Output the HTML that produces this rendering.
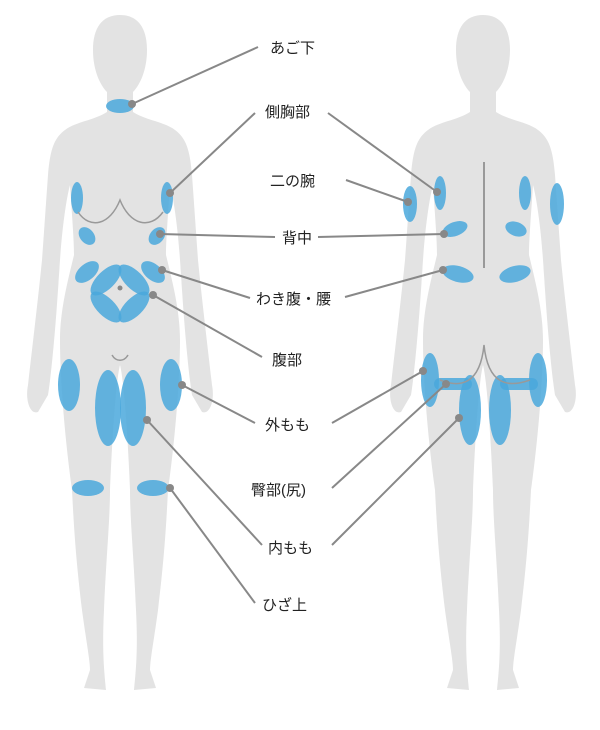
<!DOCTYPE html>
<html><head><meta charset="utf-8"><style>
html,body{margin:0;padding:0;background:#fff;}
svg{display:block;}
text{font-family:"Liberation Sans","Noto Sans CJK JP",sans-serif;font-size:15px;fill:#222;}
</style></head><body>
<svg width="600" height="730" viewBox="0 0 600 730" xmlns="http://www.w3.org/2000/svg">
<defs>
<path id="half" d="M0,15 C-18,15 -27,28 -27,50 C-27,70 -20,85 -13,92 L-13,112 C-25,120 -45,122 -55,130 C-66,138 -70,150 -72,175 L-78,260 C-82,300 -88,350 -92,385 C-95,400 -90,415 -82,412 L-72,395 C-68,370 -64,320 -62,290 L-60,260 C-58,230 -54,200 -50,185 C-48,215 -46,240 -46,255 C-52,280 -60,310 -60,340 C-60,380 -55,440 -48,490 C-46,530 -44,560 -38,610 C-34,640 -30,660 -30,670 L-36,688 L-14,690 C-16,670 -18,650 -16,610 C-14,560 -10,520 -10,490 C-8,440 -4,380 0,365 Z" fill="#e3e3e3"/>
</defs>
<g transform="translate(120,0)"><use href="#half"/><use href="#half" transform="scale(-1,1)"/></g>
<g transform="translate(483,0)"><use href="#half"/><use href="#half" transform="scale(-1,1)"/></g>

<g fill="#4aa8dc" fill-opacity="0.85">
<!-- front -->
<ellipse cx="120" cy="106" rx="14" ry="7"/>
<ellipse cx="77" cy="198" rx="6" ry="16"/>
<ellipse cx="167" cy="198" rx="6" ry="16"/>
<ellipse cx="87" cy="236" rx="7" ry="10" transform="rotate(-40 87 236)"/>
<ellipse cx="157" cy="236" rx="7" ry="10" transform="rotate(40 157 236)"/>
<ellipse cx="87" cy="272" rx="8" ry="14" transform="rotate(50 87 272)"/>
<ellipse cx="153" cy="272" rx="8" ry="14" transform="rotate(-50 153 272)"/>
<ellipse cx="106" cy="280" rx="9" ry="20" transform="rotate(45 106 280)"/>
<ellipse cx="134" cy="280" rx="9" ry="20" transform="rotate(-45 134 280)"/>
<ellipse cx="106" cy="307" rx="9" ry="20" transform="rotate(-45 106 307)"/>
<ellipse cx="134" cy="307" rx="9" ry="20" transform="rotate(45 134 307)"/>
<ellipse cx="69" cy="385" rx="11" ry="26"/>
<ellipse cx="171" cy="385" rx="11" ry="26"/>
<ellipse cx="108" cy="408" rx="13" ry="38"/>
<ellipse cx="133" cy="408" rx="13" ry="38"/>
<ellipse cx="88" cy="488" rx="16" ry="8"/>
<ellipse cx="153" cy="488" rx="16" ry="8"/>
<!-- back -->
<ellipse cx="410" cy="204" rx="7" ry="18"/>
<ellipse cx="440" cy="193" rx="6" ry="17"/>
<ellipse cx="525" cy="193" rx="6" ry="17"/>
<ellipse cx="557" cy="204" rx="7" ry="21"/>
<ellipse cx="455" cy="229" rx="13" ry="7" transform="rotate(-20 455 229)"/>
<ellipse cx="516" cy="229" rx="11" ry="7" transform="rotate(20 516 229)"/>
<ellipse cx="458" cy="274" rx="16" ry="8" transform="rotate(15 458 274)"/>
<ellipse cx="515" cy="274" rx="16" ry="8" transform="rotate(-15 515 274)"/>
<ellipse cx="430" cy="380" rx="9" ry="27"/>
<ellipse cx="538" cy="380" rx="9" ry="27"/>
<rect x="434" y="378" width="38" height="12" rx="6"/>
<rect x="500" y="378" width="38" height="12" rx="6"/>
<ellipse cx="470" cy="410" rx="11" ry="35"/>
<ellipse cx="500" cy="410" rx="11" ry="35"/>
</g>

<g fill="none" stroke="#999" stroke-width="1.5">
<path d="M78,212 C90,230 110,225 120,200 C130,225 150,230 163,212"/>
<path d="M112,355 C116,362 124,362 128,355"/>
<line x1="484" y1="162" x2="484" y2="268" stroke-width="2"/>
<path d="M440,380 C460,388 480,385 484,345 C488,385 508,388 530,380"/>
</g>

<g stroke="#888" stroke-width="2">
<line x1="132" y1="104" x2="258" y2="47"/>
<line x1="170" y1="193" x2="255" y2="113"/>
<line x1="160" y1="234" x2="275" y2="237"/>
<line x1="162" y1="270" x2="250" y2="298"/>
<line x1="153" y1="295" x2="262" y2="357"/>
<line x1="182" y1="385" x2="255" y2="423"/>
<line x1="147" y1="420" x2="262" y2="545"/>
<line x1="170" y1="488" x2="255" y2="603"/>
<line x1="328" y1="113" x2="437" y2="192"/>
<line x1="346" y1="180" x2="408" y2="202"/>
<line x1="318" y1="237" x2="444" y2="234"/>
<line x1="345" y1="297" x2="443" y2="270"/>
<line x1="332" y1="423" x2="423" y2="371"/>
<line x1="332" y1="488" x2="446" y2="384"/>
<line x1="332" y1="545" x2="459" y2="418"/>
</g>
<g fill="#888">
<circle cx="132" cy="104" r="4"/><circle cx="170" cy="193" r="4"/><circle cx="160" cy="234" r="4"/>
<circle cx="162" cy="270" r="4"/><circle cx="153" cy="295" r="4"/><circle cx="182" cy="385" r="4"/>
<circle cx="147" cy="420" r="4"/><circle cx="170" cy="488" r="4"/><circle cx="120" cy="288" r="2.5"/>
<circle cx="437" cy="192" r="4"/><circle cx="408" cy="202" r="4"/><circle cx="444" cy="234" r="4"/>
<circle cx="443" cy="270" r="4"/><circle cx="423" cy="371" r="4"/><circle cx="446" cy="384" r="4"/>
<circle cx="459" cy="418" r="4"/>
</g>

<text x="270" y="53">あご下</text>
<text x="265" y="117">側胸部</text>
<text x="270" y="186">二の腕</text>
<text x="282" y="243">背中</text>
<text x="256" y="304">わき腹・腰</text>
<text x="272" y="365">腹部</text>
<text x="265" y="430">外もも</text>
<text x="251" y="495">臀部(尻)</text>
<text x="268" y="553">内もも</text>
<text x="262" y="610">ひざ上</text>
</svg>
</body></html>
